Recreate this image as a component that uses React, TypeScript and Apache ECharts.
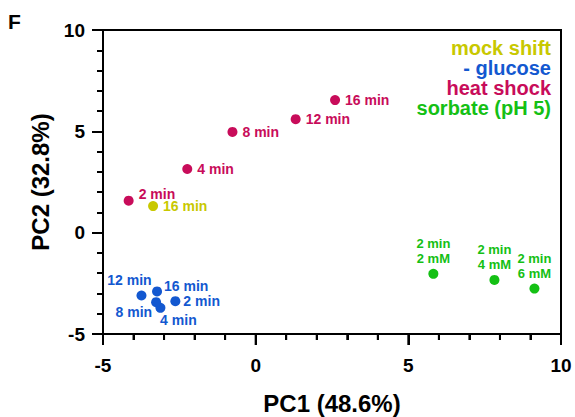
import React, { useEffect, useRef } from "react";
import * as echarts from "echarts";

const FONT = '"Liberation Sans", Arial, Helvetica, sans-serif';

const groupNames = ["mock shift", "- glucose", "heat shock", "sorbate (pH 5)"];
const groupColors = ["#c8c800", "#1358d0", "#c80c5a", "#14c014"];

// mock shift
const mockLabels = ["16 min"];
const mockX = [-3.36];
const mockY = [1.31];

// - glucose
const glucoseLabels = ["2 min", "4 min", "8 min", "12 min", "16 min"];
const glucoseX = [-2.63, -3.12, -3.26, -3.74, -3.23];
const glucoseY = [-3.38, -3.71, -3.43, -3.1, -2.9];

// heat shock
const heatLabels = ["2 min", "4 min", "8 min", "12 min", "16 min"];
const heatX = [-4.16, -2.24, -0.76, 1.31, 2.6];
const heatY = [1.58, 3.14, 4.97, 5.6, 6.54];

// sorbate (pH 5)
const sorbateLabels = ["2 min\n2 mM", "2 min\n4 mM", "2 min\n6 mM"];
const sorbateX = [5.82, 7.82, 9.13];
const sorbateY = [-2.03, -2.33, -2.76];

const xTicks = [-5, 0, 5, 10];
const yTicks = [-5, 0, 5, 10];
// every tick mark along the x axis (major ones are the labelled ticks)
const xTickMarks = [-5, -4, -3, -2, -1, 0, 1, 2, 3, 4, 5, 6, 7, 8, 9, 10];

const glucoseLabelPos: any[] = [
  { position: "right", offset: [-2, 0] },
  { position: "bottom", offset: [18, -5] },
  { position: "left", offset: [6, 10] },
  { position: "top", offset: [-12, 2] },
  { position: "right", offset: [-3, -5] },
];

const heatLabelPos: any[] = [
  { position: "right", offset: [0, -7] },
  { position: "right", offset: [0, 0] },
  { position: "right", offset: [0, 0] },
  { position: "right", offset: [0, 0] },
  { position: "right", offset: [0, 0] },
];

function build(labels: string[], xs: number[], ys: number[], pos?: any[]) {
  return labels.map((n, i) => {
    const item: any = { name: n, value: [xs[i], ys[i]] };
    if (pos) item.label = pos[i];
    return item;
  });
}

export default function App() {
  const ref = useRef<HTMLDivElement>(null);
  useEffect(() => {
    if (!ref.current) return;
    const chart = echarts.init(ref.current, null, { renderer: "svg" });
    const baseLabel = {
      show: true,
      formatter: "{b}",
      fontFamily: FONT,
      fontWeight: "bold",
      fontSize: 14,
      distance: 5,
    };
    const mk = (i: number, data: any[], label: any) => ({
      name: groupNames[i],
      type: "scatter",
      symbolSize: 10,
      itemStyle: { color: groupColors[i], opacity: 1 },
      label: { ...baseLabel, color: groupColors[i], ...label },
      emphasis: { disabled: true },
      data,
    });
    const series: any[] = [
      mk(0, build(mockLabels, mockX, mockY), { position: "right" }),
      mk(1, build(glucoseLabels, glucoseX, glucoseY, glucoseLabelPos), {}),
      mk(2, build(heatLabels, heatX, heatY, heatLabelPos), { position: "right" }),
      mk(3, build(sorbateLabels, sorbateX, sorbateY), {
        position: "top",
        distance: 3,
        lineHeight: 15,
        fontSize: 13,
        align: "center",
      }),
      {
        type: "custom",
        silent: true,
        clip: false,
        encode: { x: 0, y: 1 },
        data: xTickMarks.map((v) => [v, yTicks[0], v % 5 === 0 ? 1 : 0]),
        renderItem: (_params: any, api: any) => {
          const p = api.coord([api.value(0), api.value(1)]);
          const len = api.value(2) ? 11 : 6;
          return {
            type: "line",
            shape: { x1: p[0], y1: p[1], x2: p[0], y2: p[1] + len },
            style: { stroke: "#000", lineWidth: 2 },
          };
        },
      },
    ];

    const legendGraphics = groupNames.map((n, i) => ({
      type: "text",
      right: 575 - 551,
      top: 38 + i * 20,
      style: {
        text: n,
        fill: groupColors[i],
        font: `bold 20px ${FONT}`,
        textAlign: "right",
      },
    }));

    const nameStyle = { fontFamily: FONT, fontWeight: "bold", fontSize: 24, color: "#000" };
    const tickLabel = { fontFamily: FONT, fontWeight: "bold", fontSize: 19, color: "#000" };

    chart.setOption({
      animation: false,
      grid: {
        left: 103,
        right: 14,
        top: 30,
        bottom: 83,
        show: true,
        borderColor: "#000",
        borderWidth: 2,
        outerBoundsMode: "none",
      },
      xAxis: {
        type: "value",
        min: xTicks[0],
        max: xTicks[xTicks.length - 1],
        interval: 5,
        name: "PC1 (48.6%)",
        nameLocation: "middle",
        nameGap: 57,
        nameTextStyle: nameStyle,
        axisLine: { show: true, onZero: false, lineStyle: { color: "#000", width: 2 } },
        axisTick: { show: true, length: 11, lineStyle: { color: "#000", width: 2 } },
        minorTick: { show: true, splitNumber: 5, length: 6, lineStyle: { color: "#000", width: 2 } },
        splitLine: { show: false },
        axisLabel: { margin: 22, ...tickLabel },
      },
      yAxis: {
        type: "value",
        min: yTicks[0],
        max: yTicks[yTicks.length - 1],
        interval: 5,
        name: "PC2 (32.8%)",
        nameLocation: "middle",
        nameGap: 51,
        nameTextStyle: nameStyle,
        axisLine: { show: true, onZero: false, lineStyle: { color: "#000", width: 2 } },
        axisTick: { show: true, length: 11, lineStyle: { color: "#000", width: 2 } },
        minorTick: { show: true, splitNumber: 5, length: 6, lineStyle: { color: "#000", width: 2 } },
        splitLine: { show: false },
        axisLabel: { margin: 18, ...tickLabel },
      },
      graphic: [
        {
          type: "text",
          left: 8,
          top: 11,
          style: { text: "F", fill: "#000", font: `bold 21px ${FONT}` },
        },
        ...legendGraphics,
      ],
      series,
    });
    return () => chart.dispose();
  }, []);
  return (
    <div
      ref={ref}
      style={{ position: "fixed", left: 0, top: 0, width: 575, height: 417, background: "#fff" }}
    />
  );
}
